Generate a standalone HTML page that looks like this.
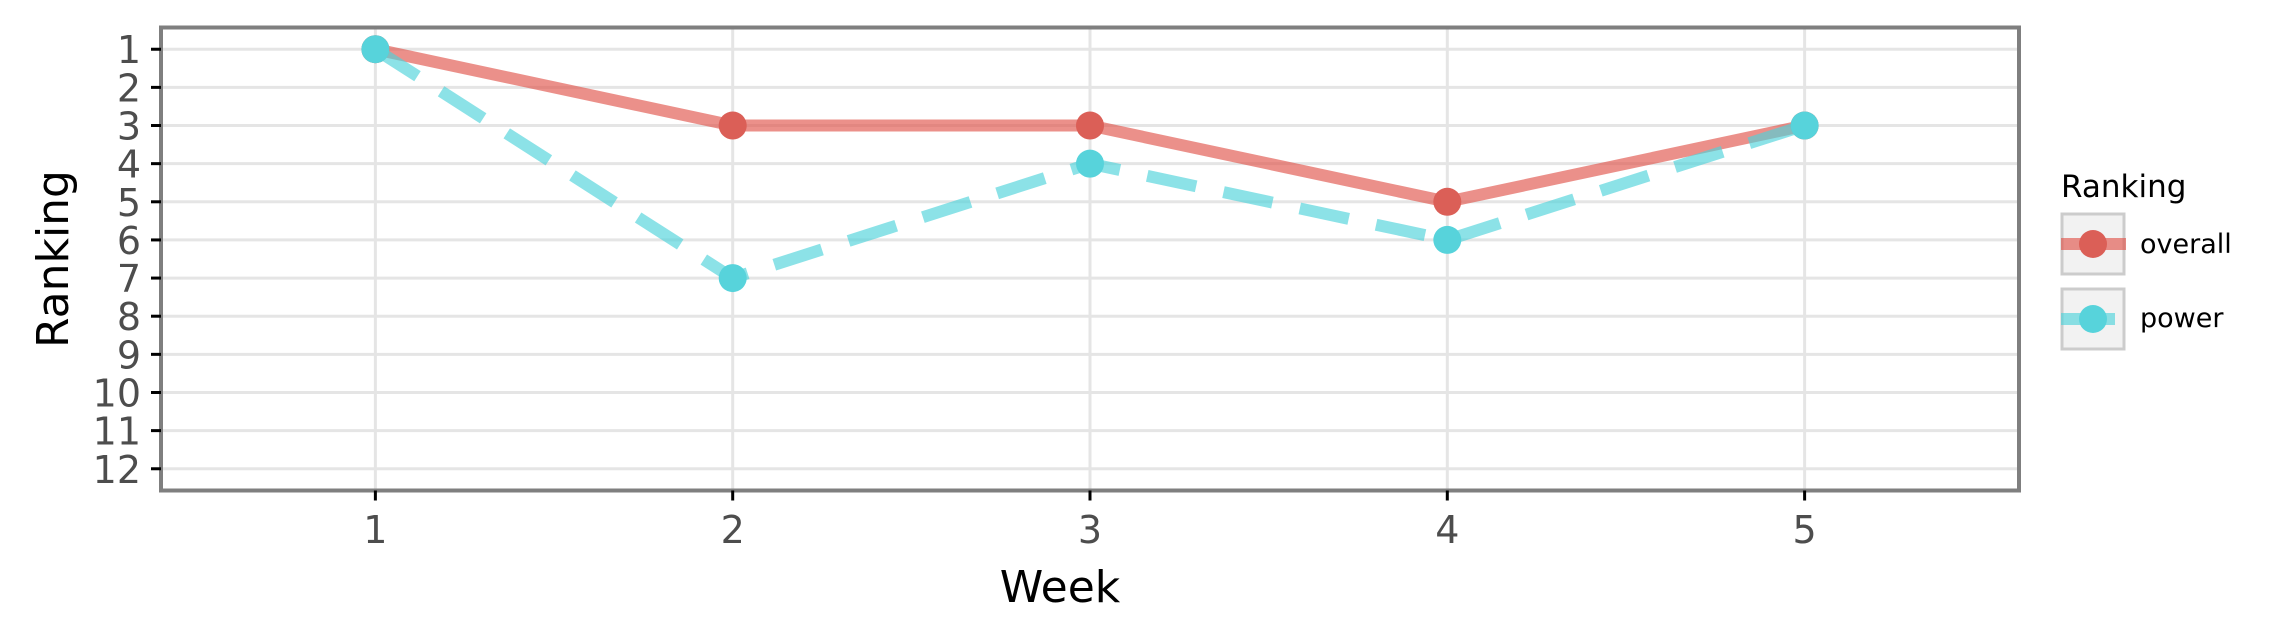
<!DOCTYPE html>
<html><head><meta charset="utf-8"><style>
html,body{margin:0;padding:0;background:#fff;}
svg{display:block;font-family:"DejaVu Sans","Liberation Sans",sans-serif;}
</style></head><body>
<svg id="chart" width="2276" height="641" viewBox="0 0 2276 641" xmlns="http://www.w3.org/2000/svg">
<g id="grid"></g>
<g id="series"></g>
<rect x="161" y="27.5" width="1858" height="463" fill="none" stroke="#7f7f7f" stroke-width="4"/>
<g id="axes"></g>
<text x="1060" y="602" font-size="44" text-anchor="middle" fill="#000">Week</text>
<text transform="translate(68,259) rotate(-90)" font-size="44" text-anchor="middle" fill="#000">Ranking</text>
<g>
<text x="2061" y="197" font-size="31" fill="#000">Ranking</text>
<g>
<rect x="2062" y="214" width="62" height="60" fill="#f2f2f2" stroke="#cccccc" stroke-width="3"/>
<line x1="2061" y1="244" x2="2126" y2="244" stroke="#e0554b" stroke-opacity="0.65" stroke-width="12"/>
<circle cx="2093" cy="244" r="14" fill="#db5f57"/>
<text x="2140" y="253" font-size="27" fill="#000">overall</text>
</g>
<g>
<rect x="2062" y="289" width="62" height="60" fill="#f2f2f2" stroke="#cccccc" stroke-width="3"/>
<line x1="2061" y1="319" x2="2115" y2="319" stroke="#4fd3da" stroke-opacity="0.65" stroke-width="12"/>
<circle cx="2093" cy="319" r="14" fill="#57d3db"/>
<text x="2140" y="327" font-size="27" fill="#000">power</text>
</g>
</g>
</svg>
<script>
const weeks = [1, 2, 3, 4, 5];
const overallRank = [1, 3, 3, 5, 3];
const powerRank = [1, 7, 4, 6, 3];
const yTicks = [1,2,3,4,5,6,7,8,9,10,11,12];
const xTicks = [1,2,3,4,5];

const NS = "http://www.w3.org/2000/svg";
const L = 161, R = 2019, T = 27.5, B = 490.5;
const xMin = 0.4, xMax = 5.6;
const yMin = 0.43, yMax = 12.57;
function xs(v){ return L + (v - xMin) / (xMax - xMin) * (R - L); }
function ys(v){ return T + (v - yMin) / (yMax - yMin) * (B - T); }
function mk(tag, attrs, parent){
  const e = document.createElementNS(NS, tag);
  for (const k in attrs) e.setAttribute(k, attrs[k]);
  parent.appendChild(e);
  return e;
}
const grid = document.getElementById('grid');
const axes = document.getElementById('axes');
const series = document.getElementById('series');

yTicks.forEach(t => {
  const g = mk('line', {x1: L, x2: R, y1: ys(t), y2: ys(t), stroke: '#e5e5e5', 'stroke-width': 3}, grid);
  
  
  const tk = mk('line', {x1: 151, x2: 161, y1: ys(t), y2: ys(t), stroke: '#000', 'stroke-width': 3}, axes);
  
  
  const lb = mk('text', {x: 141, y: ys(t) + 14, 'font-size': 38, 'text-anchor': 'end', fill: '#4d4d4d'}, axes);
  lb.textContent = t;
  
  
});
xTicks.forEach(t => {
  const g = mk('line', {x1: xs(t), x2: xs(t), y1: T, y2: B, stroke: '#e5e5e5', 'stroke-width': 3}, grid);
  
  
  const tk = mk('line', {x1: xs(t), x2: xs(t), y1: B, y2: B + 10, stroke: '#000', 'stroke-width': 3}, axes);
  
  
  const lb = mk('text', {x: xs(t), y: 543, 'font-size': 38, 'text-anchor': 'middle', fill: '#4d4d4d'}, axes);
  lb.textContent = t;
  
  
});

function drawSeries(vals, lineColor, ptColor, dash, name){
  const pts = weeks.map((w, i) => xs(w) + ',' + ys(vals[i])).join(' ');
  const attrs = {points: pts, fill: 'none', stroke: lineColor, 'stroke-opacity': 0.65, 'stroke-width': 12};
  if (dash) attrs['stroke-dasharray'] = dash;
  const pl = mk('polyline', attrs, series);
  
  
  weeks.forEach((w, i) => {
    const c = mk('circle', {cx: xs(w), cy: ys(vals[i]), r: 14, fill: ptColor}, series);
    
    
  });
}
drawSeries(overallRank, '#e0554b', '#db5f57', null, 'overall');
drawSeries(powerRank, '#4fd3da', '#57d3db', '50 28', 'power');
</script>
</body></html>
